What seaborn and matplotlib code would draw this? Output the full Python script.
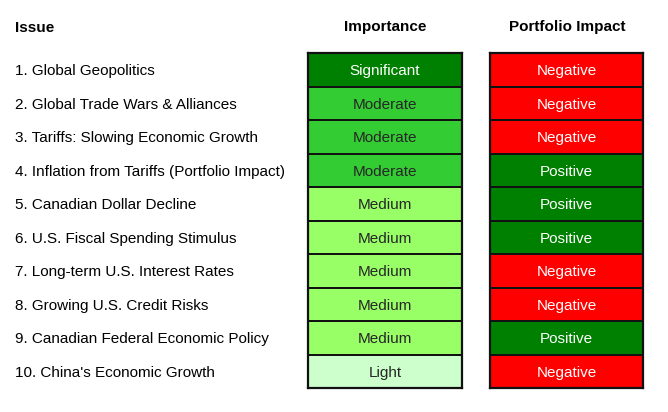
import numpy as np
import seaborn as sns
import matplotlib.pyplot as plt
from matplotlib.colors import ListedColormap
from matplotlib import transforms

issues = [
    "1. Global Geopolitics",
    "2. Global Trade Wars & Alliances",
    "3. Tariffs: Slowing Economic Growth",
    "4. Inflation from Tariffs (Portfolio Impact)",
    "5. Canadian Dollar Decline",
    "6. U.S. Fiscal Spending Stimulus",
    "7. Long-term U.S. Interest Rates",
    "8. Growing U.S. Credit Risks",
    "9. Canadian Federal Economic Policy",
    "10. China's Economic Growth",
]
importance = ["Significant", "Moderate", "Moderate", "Moderate", "Medium",
              "Medium", "Medium", "Medium", "Medium", "Light"]
impact = ["Negative", "Negative", "Negative", "Positive", "Positive",
          "Positive", "Negative", "Negative", "Positive", "Negative"]

importance_levels = ["Light", "Medium", "Moderate", "Significant"]
importance_colors = ["#CCFFCC", "#99FF66", "#33CC33", "#008000"]
impact_levels = ["Negative", "Positive"]
impact_colors = ["#FF0000", "#008000"]

plt.rcParams['font.family'] = ['Liberation Sans', 'DejaVu Sans']
FS = 11

fig = plt.figure(figsize=(6.68, 4.12), dpi=100)
ax_imp = fig.add_axes([308 / 668, 1 - 388 / 412, 154 / 668, 335 / 412])
ax_pi = fig.add_axes([490 / 668, 1 - 388 / 412, 153 / 668, 335 / 412])


def column(ax, values, levels, colors):
    codes = np.array([[levels.index(v)] for v in values])
    annot = np.array([[v] for v in values])
    sns.heatmap(codes, ax=ax, cmap=ListedColormap(colors), vmin=-0.5,
                vmax=len(levels) - 0.5, cbar=False, annot=annot, fmt='',
                annot_kws={'fontsize': FS, 'va': 'center_baseline'},
                linewidths=1.3, linecolor='#111111')
    ax.set_xticks([])
    ax.set_yticks([])
    for s in ax.spines.values():
        s.set_visible(True)
        s.set_linewidth(1.6)
        s.set_color('#111111')


column(ax_imp, importance, importance_levels, importance_colors)
column(ax_pi, impact, impact_levels, impact_colors)

tr = transforms.blended_transform_factory(fig.transFigure, ax_imp.transData)
for i, name in enumerate(issues):
    ax_imp.text(15 / 668, i + 0.5, name, transform=tr, ha='left',
                va='center_baseline', fontsize=FS, color='black', clip_on=False)

fig.text(15 / 668, 1 - 26 / 412, "Issue", ha='left', va='center_baseline',
         fontsize=FS, fontweight='bold')
fig.text(385 / 668, 1 - 26 / 412, "Importance", ha='center', va='center_baseline',
         fontsize=FS, fontweight='bold')
fig.text(567 / 668, 1 - 26 / 412, "Portfolio Impact", ha='center',
         va='center_baseline', fontsize=FS, fontweight='bold')

fig.savefig("out.png", dpi=100)
